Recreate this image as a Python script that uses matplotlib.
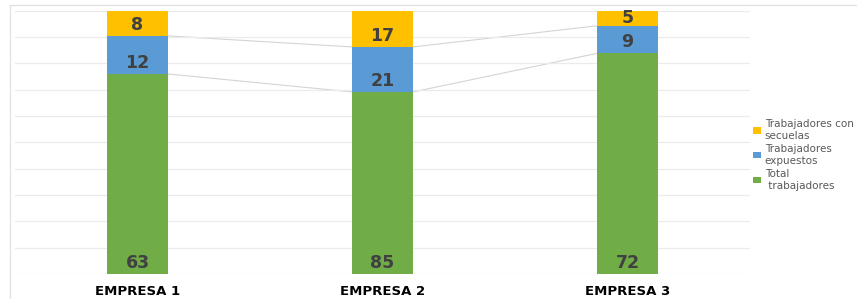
import matplotlib
matplotlib.use("Agg")
import matplotlib.pyplot as plt
from matplotlib.lines import Line2D
import numpy as np

# ================================
# Data
# ================================
empresas = ['EMPRESA 1', 'EMPRESA 2', 'EMPRESA 3']
total_trab = [63, 85, 72]
expuestos = [12, 21, 9]
secuelas = [8, 17, 5]

series_names = ['Total\n trabajadores', 'Trabajadores\nexpuestos', 'Trabajadores con\nsecuelas']
colors = ['#70AD47', '#5B9BD5', '#FFC000']

plt.rcParams['font.family'] = ['DejaVu Sans']

W, H = 857, 299
fig = plt.figure(figsize=(W / 100, H / 100), dpi=100)
ax = fig.add_axes([15 / W, (H - 274) / H, (750 - 15) / W, (274 - 10.5) / H])

# 100% stacked values
vals = np.array([total_trab, expuestos, secuelas], dtype=float)
pct = vals / vals.sum(axis=0) * 100
x = np.arange(len(empresas))
bar_w = 0.25
px_per_pct = (274 - 10.5) / 100.0

bottom = np.zeros(len(empresas))
tops = []
for i, (name, col) in enumerate(zip(series_names, colors)):
    ax.bar(x, pct[i], bar_w, bottom=bottom, color=col, label=name, zorder=2)
    for j in range(len(x)):
        seg_px = pct[i][j] * px_per_pct
        off = min(11, seg_px / 2)
        ax.annotate(str(int(vals[i][j])), (x[j], bottom[j]), xytext=(0, off * 0.72),
                    textcoords='offset points', ha='center', va='center',
                    fontsize=12.5, fontweight='bold', color='#404040', zorder=3)
    bottom = bottom + pct[i]
    tops.append(bottom.copy())

# series lines between bars (tops of green and blue)
for k in range(2):
    for j in range(len(x) - 1):
        ax.plot([x[j] + bar_w / 2, x[j + 1] - bar_w / 2], [tops[k][j], tops[k][j + 1]],
                color='#d4d4d4', lw=0.8, zorder=1)

ax.set_xlim(-0.5, 2.5)
ax.set_ylim(0, 100)
ax.set_yticks(np.arange(0, 101, 10))
ax.set_yticklabels([])
ax.tick_params(axis='y', length=0)
ax.tick_params(axis='x', length=0, pad=8)
ax.set_xticks(x)
ax.set_xticklabels(empresas, fontsize=9.5, fontweight='bold', color='black')
ax.grid(axis='y', color='#ebebeb', lw=0.9, zorder=0)
for s in ax.spines.values():
    s.set_visible(False)

# legend (reverse order: yellow on top)
handles, labels = ax.get_legend_handles_labels()
leg = fig.legend(handles[::-1], labels[::-1], loc='center left',
                 bbox_to_anchor=(744 / W, (H - 155) / H), frameon=False,
                 fontsize=7.5, labelcolor='#595959', handlelength=0.7, handleheight=0.55,
                 handletextpad=0.4, labelspacing=0.3)

# chart area border (partly cropped)
fig.add_artist(Line2D([10 / W, 10 / W], [0, (H - 5) / H], transform=fig.transFigure,
                      color='#e0e0e0', lw=0.9))
fig.add_artist(Line2D([10 / W, 1], [(H - 5) / H, (H - 5) / H], transform=fig.transFigure,
                      color='#e0e0e0', lw=0.9))

plt.savefig('out.png', dpi=100)
